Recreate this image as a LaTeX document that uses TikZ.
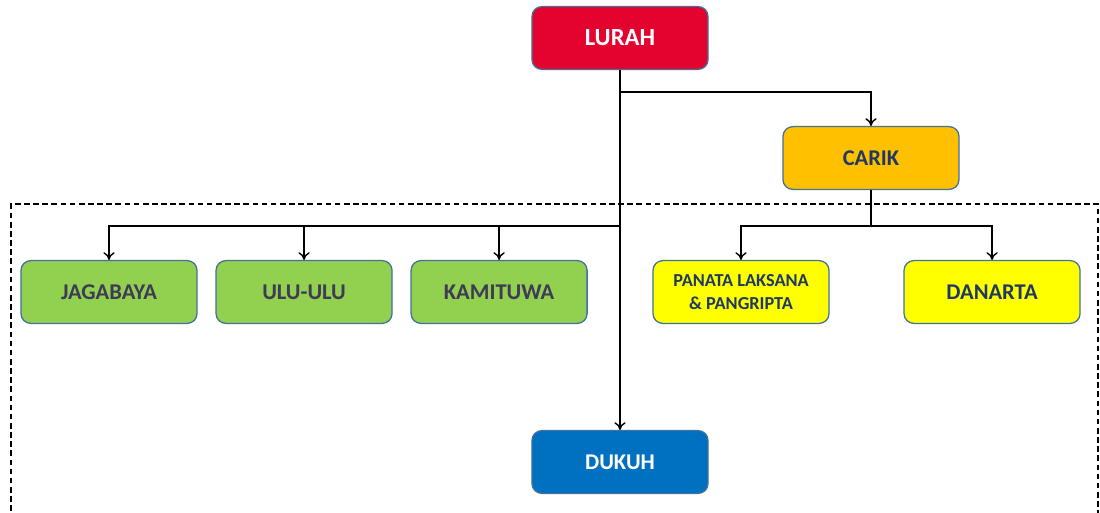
\documentclass[tikz,border=0pt]{standalone}
\usepackage{fontspec}
\setmainfont{Carlito}
\usetikzlibrary{arrows.meta, positioning}

\definecolor{lurahred}{HTML}{E4032E}
\definecolor{carikorange}{HTML}{FFC000}
\definecolor{kasigreen}{HTML}{92D050}
\definecolor{kaurkuning}{HTML}{FFFF00}
\definecolor{dukuhblue}{HTML}{0070C0}
\definecolor{boxline}{HTML}{41719C}
\definecolor{navytext}{HTML}{1F3864}
\definecolor{greytext}{HTML}{3F3A55}

\begin{document}
\begin{tikzpicture}[x=0.025cm, y=-0.025cm, on grid,
	box/.style={draw=boxline, line width=0.9pt, rounded corners=7pt, minimum width=4.4cm, minimum height=1.57cm, align=center, font=\bfseries\fontsize{16}{18}\selectfont},
	kasi/.style={box, fill=kasigreen, text=greytext},
	kaur/.style={box, fill=kaurkuning, text=navytext},
	link/.style={line width=1pt, -{To[length=5.5pt, width=8pt]}}]
	\useasboundingbox (0,0) rectangle (1100,513);

	% bingkai putus-putus
	\draw[dash pattern=on 4pt off 2.5pt, line width=0.8pt] (11,520) -- (11,204) -- (1098,204) -- (1098,520);

	\node[box, fill=lurahred, text=white, font=\bfseries\fontsize{17.5}{20}\selectfont] (lurah) at (620,38) {LURAH};
	\node[box, fill=carikorange, text=navytext] (carik) at (871,158) {CARIK};
	\node[kasi] (jagabaya) at (109,292) {JAGABAYA};
	\node[kasi, right=4.875cm of jagabaya] (ulu) {ULU-ULU};
	\node[kasi, right=4.875cm of ulu] (kamituwa) {KAMITUWA};
	\node[kaur, font=\bfseries\fontsize{13}{16}\selectfont] (panata) at (741,292) {PANATA LAKSANA\\\& PANGRIPTA};
	\node[kaur, right=6.275cm of panata] (danarta) {DANARTA};
	\node[box, fill=dukuhblue, text=white] (dukuh) at (620,462) {DUKUH};

	\coordinate (lurahsplit) at (lurah.south |- 0,92);
	\coordinate (kasibus) at (620,226);
	\coordinate (carikbus) at (carik |- kasibus);

	\draw[link] (lurah) -- (dukuh);
	\draw[link] (lurahsplit) -| (carik);
	\draw[link] (kasibus) -| (jagabaya);
	\draw[link] (ulu |- kasibus) -- (ulu);
	\draw[link] (kamituwa |- kasibus) -- (kamituwa);
	\draw[line width=1pt] (carik) -- (carikbus);
	\draw[link] (carikbus) -| (panata);
	\draw[link] (carikbus) -| (danarta);
\end{tikzpicture}
\end{document}
